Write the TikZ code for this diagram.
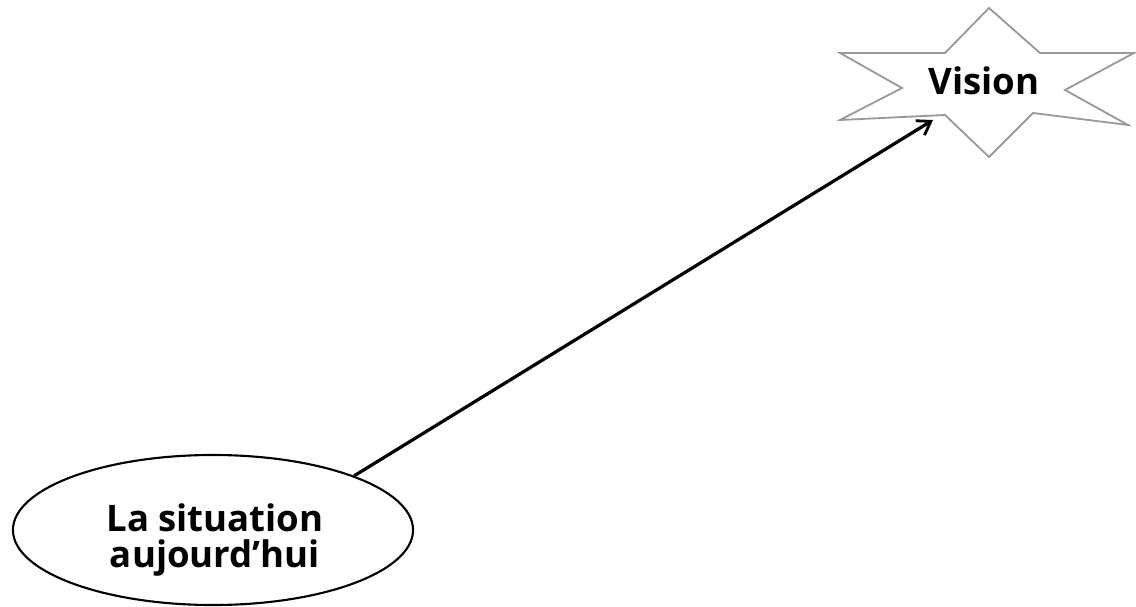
\documentclass[tikz,border=0pt]{standalone}
\usepackage{fontspec}
\setmainfont{Open Sans}
\usepackage{tikz}
\usetikzlibrary{arrows.meta, shapes.geometric}

\begin{document}
\begin{tikzpicture}[x=0.025cm, y=0.025cm, >={Straight Barb[length=9pt, width=12pt, line width=2pt]},
  every node/.style={font=\bfseries\fontsize{26}{25.6}\selectfont}]
  \useasboundingbox (0,0) rectangle (1136,606);
  % the star around the vision
  \draw[gray!80, line width=1.3pt, line join=miter] (989,598) -- (1040,553) -- (1134,553) -- (1065,516)
    -- (1128,481) -- (1033,493) -- (989,449) -- (945,491) -- (840,486) -- (902,518)
    -- (840,553) -- (945,553) -- cycle;
  \node[anchor=base] (vis) at (984,511) {Vision};
  \coordinate (tip) at (933,486);
  % today
  \node[draw, ellipse, line width=1.5pt, minimum width=10cm, minimum height=3.75cm, inner sep=0pt] (sit) at (213,76) {};
  \node[align=center] (sittext) at (215,66) {La situation\\aujourd’hui};
  \draw[->, line width=2.3pt] (sit.21) -- (tip);
\end{tikzpicture}
\end{document}
